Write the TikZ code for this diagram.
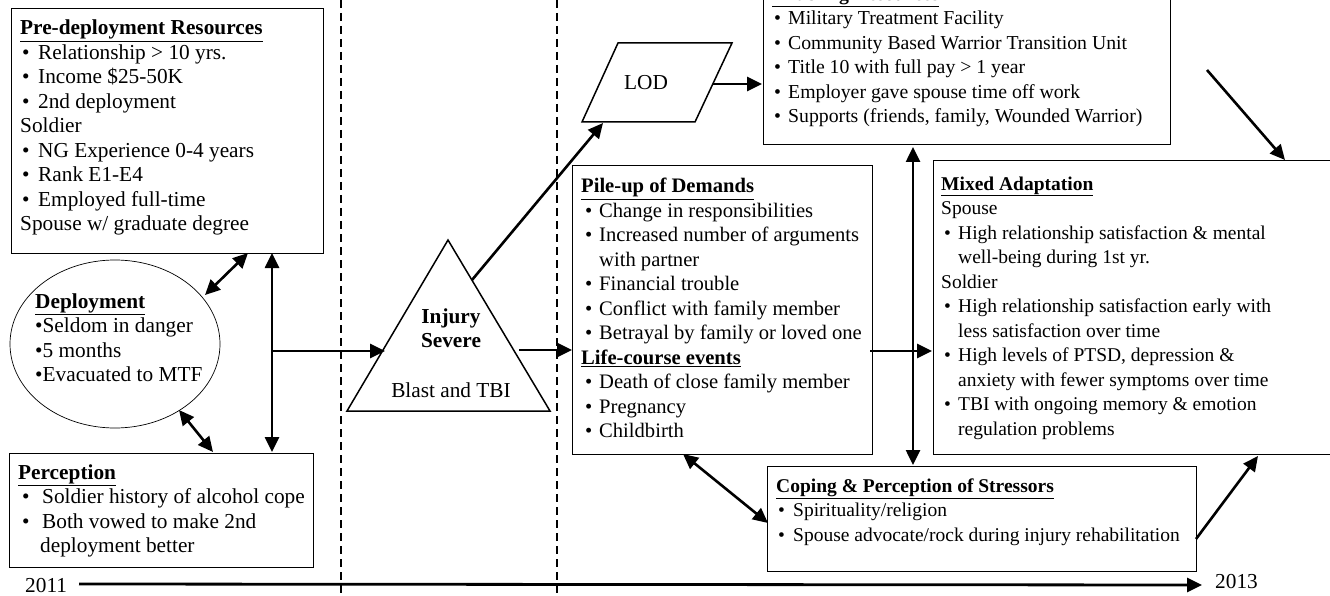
\documentclass[tikz,border=0pt]{standalone}
\usepackage{fontspec}
\setmainfont{Liberation Serif}
\usetikzlibrary{arrows.meta,calc,shapes.geometric}
\newcommand\hd[1]{\textbf{\underline{#1}}}
\newcommand\bu[3]{\hspace*{#1pt}\makebox[#2pt][l]{•}#3}
\newcommand\ct[2]{\hspace*{#1pt}#2}
\newcommand\blk[1]{\begin{tabular}[t]{@{}l@{}}#1\end{tabular}}
\newcommand\blc[1]{\begin{tabular}[t]{@{}c@{}}#1\end{tabular}}
\begin{document}
\begin{tikzpicture}[x=1pt,y=-1pt,
  font=\fontsize{21.3pt}{24.5pt}\selectfont,
  sm/.style={font=\fontsize{19.5pt}{24.5pt}\selectfont},
  en/.style={font=\fontsize{19.75pt}{24.5pt}\selectfont},
  md/.style={font=\fontsize{20.6pt}{24.5pt}\selectfont},
  box/.style={draw, line width=1.3pt, inner sep=0pt, anchor=north west},
  txt/.style={anchor=base west, inner sep=0pt},
  arr/.style={line width=2.6pt, -{Triangle[length=15pt,width=14pt]}},
  darr/.style={line width=2.6pt, {Triangle[length=15pt,width=14pt]}-{Triangle[length=15pt,width=14pt]}},
  sep/.style={line width=1.5pt, dash pattern=on 8pt off 5pt}]
\useasboundingbox (0,0) rectangle (1330,596);
\clip (0,0) rectangle (1330,596);
\fill[white] (0,0) rectangle (1330,596);
% separators
\coordinate (s1t) at (341,0); \coordinate (s1b) at (341,596);
\coordinate (s2t) at (557,0); \coordinate (s2b) at (557,596);
\draw[sep] (s1t) -- (s1b);
\draw[sep] (s2t) -- (s2b);
% boxes
\node[box, minimum width=312pt, minimum height=245pt] (pre) at (11,8) {};
\node[txt] (pretxt) at (20,35) {\blk{\hd{Pre-deployment Resources}\\
\bu{2}{16}{Relationship > 10 yrs.}\\
\bu{2}{16}{Income \$25-50K}\\
\bu{2}{16}{2nd deployment}\\
Soldier\\
\bu{2}{16}{NG Experience 0-4 years}\\
\bu{2}{16}{Rank E1-E4}\\
\bu{2}{16}{Employed full-time}\\
Spouse w/ graduate degree}};
\node[draw, ellipse, line width=0.7pt, inner sep=0pt, minimum width=210pt, minimum height=168pt] (dep) at (115,344) {};
\node[txt] (deptxt) at (35,308) {\blk{\hd{Deployment}\\ •Seldom in danger\\ •5 months\\ •Evacuated to MTF}};
\node[box, minimum width=304pt, minimum height=114pt] (perc) at (9,453) {};
\node[txt] (perctxt) at (18,479) {\blk{\hd{Perception}\\
\bu{4}{20}{Soldier history of alcohol cope}\\
\bu{4}{20}{Both vowed to make 2nd}\\
\ct{22}{deployment better}}};
% triangle
\coordinate (apex) at (448,240); \coordinate (bl) at (347,411); \coordinate (br) at (550,411);
\draw[line width=1.5pt] (apex) -- (bl) -- (br) -- cycle;
\node[anchor=base, inner sep=0pt, font=\fontsize{21.3pt}{24.5pt}\selectfont\bfseries] (inj) at (451,323) {\blc{Injury\\Severe}};
\node[anchor=base, inner sep=0pt] (blast) at (451,397) {Blast and TBI};
% LOD
\coordinate (l1) at (618,43); \coordinate (l2) at (732,43); \coordinate (l3) at (695,122); \coordinate (l4) at (582,122);
\draw[line width=1.5pt] (l1) -- (l2) -- (l3) -- (l4) -- cycle;
\node[inner sep=0pt] (lod) at (646,83) {LOD};
% pile-up
\node[box, minimum width=300pt, minimum height=289pt] (pile) at (572,165) {};
\node[txt, md] (piletxt) at (581,193) {\blk{\hd{Pile-up of Demands}\\
\bu{4}{14}{Change in responsibilities}\\
\bu{4}{14}{Increased number of arguments}\\
\ct{18}{with partner}\\
\bu{4}{14}{Financial trouble}\\
\bu{4}{14}{Conflict with family member}\\
\bu{4}{14}{Betrayal by family or loved one}\\
\hd{Life-course events}\\
\bu{4}{14}{Death of close family member}\\
\bu{4}{14}{Pregnancy}\\
\bu{4}{14}{Childbirth}}};
% enabling
\node[box, minimum width=407pt, minimum height=170pt] (enab) at (763,-26) {};
\node[txt, en] (enabtxt) at (772,0.5) {\blk{\hd{Enabling Resources}\\
\bu{2}{14}{Military Treatment Facility}\\
\bu{2}{14}{Community Based Warrior Transition Unit}\\
\bu{2}{14}{Title 10 with full pay > 1 year}\\
\bu{2}{14}{Employer gave spouse time off work}\\
\bu{2}{14}{Supports (friends, family, Wounded Warrior)}}};
% mixed
\node[box, minimum width=410pt, minimum height=294pt] (mix) at (933,160) {};
\node[txt, sm] (mixtxt) at (941,190) {\blk{\hd{Mixed Adaptation}\\
Spouse\\
\bu{3}{14}{High relationship satisfaction \& mental}\\
\ct{17}{well-being during 1st yr.}\\
Soldier\\
\bu{3}{14}{High relationship satisfaction early with}\\
\ct{17}{less satisfaction over time}\\
\bu{3}{14}{High levels of PTSD, depression \&}\\
\ct{17}{anxiety with fewer symptoms over time}\\
\bu{3}{14}{TBI with ongoing memory \& emotion}\\
\ct{17}{regulation problems}}};
% coping
\node[box, minimum width=429pt, minimum height=105pt] (cope) at (767,466) {};
\node[txt, sm] (copetxt) at (776,492) {\blk{\hd{Coping \& Perception of Stressors}\\
\bu{2}{15}{Spirituality/religion}\\
\bu{2}{15}{Spouse advocate/rock during injury rehabilitation}}};
% timeline
\node[anchor=base west, inner sep=0pt] (y1) at (25,592) {2011};
\node[anchor=base west, inner sep=0pt] (y2) at (1215,588) {2013};
\coordinate (t1) at (79,584); \coordinate (t2) at (1202,585);
\draw[arr, line width=2.8pt] (t1) -- (t2);
% connectors
\coordinate (a1) at (248,253); \coordinate (a2) at (205,295);
\draw[darr] (a1) -- (a2);
\coordinate (v1) at (272,253); \coordinate (v2) at (272,452);
\draw[darr] (v1) -- (v2);
\coordinate (h1) at (272,351); \coordinate (h2) at (385,351);
\draw[arr] (h1) -- (h2);
\coordinate (d1) at (179,410); \coordinate (d2) at (213,452);
\draw[darr] (d1) -- (d2);
\coordinate (tl1) at (472,280); \coordinate (tl2) at (603,123);
\draw[arr] (tl1) -- (tl2);
\coordinate (tp1) at (519,350); \coordinate (tp2) at (572,350);
\draw[arr] (tp1) -- (tp2);
\coordinate (le1) at (713,84); \coordinate (le2) at (762,84);
\draw[arr] (le1) -- (le2);
\coordinate (em1) at (1207,70); \coordinate (em2) at (1285,160);
\draw[arr] (em1) -- (em2);
\coordinate (pm1) at (870,351); \coordinate (pm2) at (932,351);
\draw[arr] (pm1) -- (pm2);
\coordinate (ec1) at (913,147); \coordinate (ec2) at (913,465);
\draw[darr] (ec1) -- (ec2);
\coordinate (pc1) at (683,454); \coordinate (pc2) at (768,523);
\draw[darr] (pc1) -- (pc2);
\coordinate (cm1) at (1196,539); \coordinate (cm2) at (1258,456);
\draw[arr] (cm1) -- (cm2);
\end{tikzpicture}
\end{document}
